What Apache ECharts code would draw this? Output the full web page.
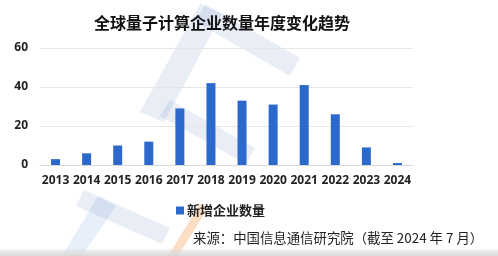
<!DOCTYPE html>
<html><head><meta charset="utf-8">
<script src="https://cdn.jsdelivr.net/npm/echarts@6/dist/echarts.min.js"></script>
<style>html,body{margin:0;padding:0;background:#fff}#c{width:498px;height:256px}</style>
</head><body><div id="c"></div>
<script>
const title = '全球量子计算企业数量年度变化趋势';
const categories = ['2013','2014','2015','2016','2017','2018','2019','2020','2021','2022','2023','2024'];
const newCompanies = [3, 6, 10, 12, 29, 42, 33, 31, 41, 26, 9, 1];
const seriesName = '新增企业数量';
const yTicks = [0, 20, 40, 60];
const sourceText = '来源：中国信息通信研究院（截至 2024 年 7 月）';

const wmBlue = 'rgba(110,140,200,0.16)';
const wmLight = 'rgba(120,170,225,0.18)';
const chart = echarts.init(document.getElementById('c'), null, {renderer: 'canvas'});
chart.setOption({
  animation: false,
  backgroundColor: '#fff',
  title: {
    text: title, left: 217, top: 10, textAlign: 'center',
    textStyle: {fontFamily: 'Noto Sans CJK SC', fontSize: 16, fontWeight: 'bold', color: '#111'}
  },
  grid: {left: 40, right: 85, top: 48, bottom: 91, containLabel: false},
  legend: {
    data: [seriesName], left: 171, top: 199, icon: 'rect', itemWidth: 8, itemHeight: 8, itemGap: 4,
    textStyle: {fontFamily: 'Noto Sans CJK SC', fontSize: 13, fontWeight: 'bold', color: '#222', padding: [0,0,0,-2]}
  },
  xAxis: {
    type: 'category', data: categories,
    axisLine: {lineStyle: {color: '#d9d9d9'}}, axisTick: {show: false},
    axisLabel: {fontFamily: 'Open Sans', fontSize: 12, fontWeight: 'bold', color: '#222', margin: 10, interval: 0}
  },
  yAxis: {
    type: 'value', min: yTicks[0], max: yTicks[yTicks.length-1], interval: 20,
    axisLine: {show: false}, axisTick: {show: false},
    splitLine: {lineStyle: {color: '#e6e6e6'}},
    axisLabel: {fontFamily: 'Open Sans', fontSize: 12, fontWeight: 'bold', color: '#222', margin: 12}
  },
  series: [{
    name: seriesName, type: 'bar', data: newCompanies, barWidth: 9,
    itemStyle: {color: '#2d69cc'}
  }],
  graphic: [
    {type: 'polygon', z: -10, shape: {points: [[140,112],[200,4],[222,14],[164,122]]}, style: {fill: wmBlue}},
    {type: 'polygon', z: -10, shape: {points: [[205,4],[300,58],[290,76],[196,22]]}, style: {fill: wmBlue}},
    {type: 'polygon', z: -10, shape: {points: [[170,100],[255,148],[246,164],[160,116]]}, style: {fill: wmBlue}},
    {type: 'polygon', z: -10, shape: {points: [[62,256],[98,196],[116,206],[82,256]]}, style: {fill: wmLight}},
    {type: 'polygon', z: -10, shape: {points: [[84,190],[170,228],[162,244],[76,206]]}, style: {fill: wmBlue}},
    {type: 'polygon', z: -10, shape: {points: [[168,256],[200,204],[208,208],[178,256]]}, style: {fill: 'rgba(245,160,90,0.35)'}},
    {type: 'text', left: 193, top: 231, style: {text: sourceText, font: '13.4px "Noto Sans CJK SC"', fill: '#222'}},
    {type: 'rect', left: 0, top: 249, shape: {width: 498, height: 7},
     style: {fill: new echarts.graphic.LinearGradient(0,0,0,1,[{offset:0,color:'rgba(220,220,220,0.3)'},{offset:1,color:'#d8d8d8'}])}}
  ]
});
</script></body></html>
